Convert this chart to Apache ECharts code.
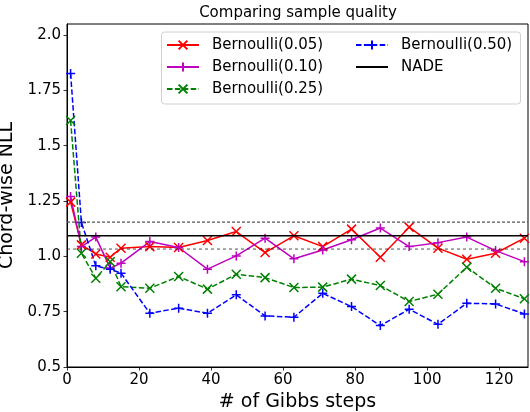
<!DOCTYPE html>
<html>
<head>
<meta charset="utf-8">
<script src="https://cdn.jsdelivr.net/npm/echarts@6/dist/echarts.min.js"></script>
<style>
html,body{margin:0;padding:0;background:#fff;}
#chart{width:530px;height:412px;}
</style>
</head>
<body>
<div id="chart"></div>
<script>
// ---- data ----
const xSteps = [1, 4, 8, 12, 15, 23, 31, 39, 47, 55, 63, 71, 79, 87, 95, 103, 111, 119, 127];
const bern005 = [1.245, 1.052, 1.011, 0.996, 1.037, 1.044, 1.040, 1.072, 1.112, 1.017, 1.093, 1.044, 1.123, 0.996, 1.132, 1.037, 0.987, 1.014, 1.082];
const bern010 = [1.270, 1.044, 1.087, 0.947, 0.969, 1.067, 1.040, 0.942, 1.002, 1.082, 0.989, 1.029, 1.075, 1.128, 1.044, 1.062, 1.087, 1.026, 0.976];
const bern025 = [1.614, 1.014, 0.901, 0.976, 0.863, 0.856, 0.909, 0.852, 0.919, 0.904, 0.859, 0.861, 0.897, 0.868, 0.796, 0.829, 0.951, 0.856, 0.808];
const bern050 = [1.826, 1.153, 0.957, 0.942, 0.924, 0.743, 0.766, 0.743, 0.826, 0.731, 0.725, 0.833, 0.773, 0.687, 0.761, 0.693, 0.788, 0.785, 0.740];
const nadeValue = 1.093;
const nadeUpper = 1.155;
const nadeLower = 1.033;
const xTicks = [0, 20, 40, 60, 80, 100, 120];
const yTicks = [0.5, 0.75, 1.0, 1.25, 1.5, 1.75, 2.0];
const xRange = [0, 128];
const yRange = [0.5, 2.05];
const seriesNames = ['Bernoulli(0.05)', 'Bernoulli(0.10)', 'Bernoulli(0.25)', 'Bernoulli(0.50)', 'NADE'];

// ---- helpers ----
const FONT = 'DejaVu Sans';
const X_MARK = 'path://M0,0L10,10M10,0L0,10';
const P_MARK = 'path://M5,0L5,10M0,5L10,5';
const pair = (ys) => xSteps.map((x, i) => [x, ys[i]]);
const flat = (v) => [[xRange[0], v], [xRange[1], v]];

function markSeries(name, ys, color, sym, dashed) {
  return {
    name: name, type: 'line', data: pair(ys),
    symbol: sym, symbolSize: 9, showSymbol: true,
    lineStyle: { color: color, width: 1.5, type: dashed ? [5.5, 2.4] : 'solid' },
    itemStyle: { color: color, borderColor: color, borderWidth: 1.5 },
    emphasis: { disabled: true }, animation: false, z: 2
  };
}

const legendCommon = {
  orient: 'vertical', top: 37.5, padding: 0,
  itemWidth: 32, itemHeight: 11, itemGap: 7, z: 4,
  textStyle: { fontFamily: FONT, fontSize: 15, color: '#000', lineHeight: 15, padding: [0, 0, 0, 8] }
};

const chart = echarts.init(document.getElementById('chart'), null, { renderer: 'canvas' });
const option = {
  backgroundColor: '#fff',
  animation: false,
  title: {
    text: 'Comparing sample quality', left: 293, top: 1, textAlign: 'center',
    textStyle: { fontFamily: FONT, fontSize: 15, fontWeight: 'normal', color: '#000' }
  },
  grid: {
    left: 67, right: 2, top: 24, bottom: 45, show: true, borderColor: '#000', borderWidth: 1,
    backgroundColor: 'transparent', containLabel: false, outerBoundsMode: 'none'
  },
  graphic: [{
    type: 'rect', left: 161, top: 31.5, z: 3,
    shape: { width: 359, height: 72, r: 3 },
    style: { fill: 'rgba(255,255,255,0.8)', stroke: '#d0d0d0', lineWidth: 1 }
  }],
  legend: [
    Object.assign({}, legendCommon, { left: 166, data: seriesNames.slice(0, 3) }),
    Object.assign({}, legendCommon, {
      left: 355,
      data: [seriesNames[3], { name: seriesNames[4], itemStyle: { opacity: 0 } }]
    })
  ],
  xAxis: {
    type: 'value', min: xRange[0], max: xRange[1], interval: 20,
    name: '# of Gibbs steps', nameLocation: 'middle', nameGap: 26,
    nameTextStyle: { fontFamily: FONT, fontSize: 19, color: '#000' },
    axisLine: { show: true, lineStyle: { color: '#000', width: 1 } },
    axisTick: { show: true, inside: false, length: 3.5, lineStyle: { color: '#000', width: 0.8 }, customValues: xTicks },
    axisLabel: { fontFamily: FONT, fontSize: 15, color: '#000', margin: 6, customValues: xTicks, formatter: (v) => String(v) },
    splitLine: { show: false }
  },
  yAxis: {
    type: 'value', min: yRange[0], max: yRange[1], interval: 0.25,
    name: 'Chord-wise NLL', nameLocation: 'middle', nameGap: 37,
    nameTextStyle: { fontFamily: FONT, fontSize: 19, color: '#000' },
    axisLine: { show: true, lineStyle: { color: '#000', width: 1 } },
    axisTick: { show: true, inside: false, length: 3.5, lineStyle: { color: '#000', width: 0.8 }, customValues: yTicks },
    axisLabel: {
      fontFamily: FONT, fontSize: 15, color: '#000', margin: 6, customValues: yTicks,
      formatter: (v) => (Math.round(v * 100) % 10 === 0 ? v.toFixed(1) : v.toFixed(2))
    },
    splitLine: { show: false }
  },
  series: [
    markSeries(seriesNames[0], bern005, '#ff0000', X_MARK, false),
    markSeries(seriesNames[1], bern010, '#bf00bf', P_MARK, false),
    markSeries(seriesNames[2], bern025, '#008000', X_MARK, true),
    markSeries(seriesNames[3], bern050, '#0000ff', P_MARK, true),
    {
      name: seriesNames[4], type: 'line', data: flat(nadeValue), symbol: 'none',
      lineStyle: { color: '#000', width: 1.5 }, itemStyle: { color: '#000' },
      emphasis: { disabled: true }, z: 3
    },
    {
      name: 'upper', type: 'line', data: flat(nadeUpper), symbol: 'none',
      lineStyle: { color: '#555', width: 1.2, type: [3, 2] }, emphasis: { disabled: true }, z: 3
    },
    {
      name: 'lower', type: 'line', data: flat(nadeLower), symbol: 'none',
      lineStyle: { color: '#222', width: 0.8, type: [3, 3] }, emphasis: { disabled: true }, z: 3
    }
  ]
};
chart.setOption(option);
</script>
</body>
</html>
